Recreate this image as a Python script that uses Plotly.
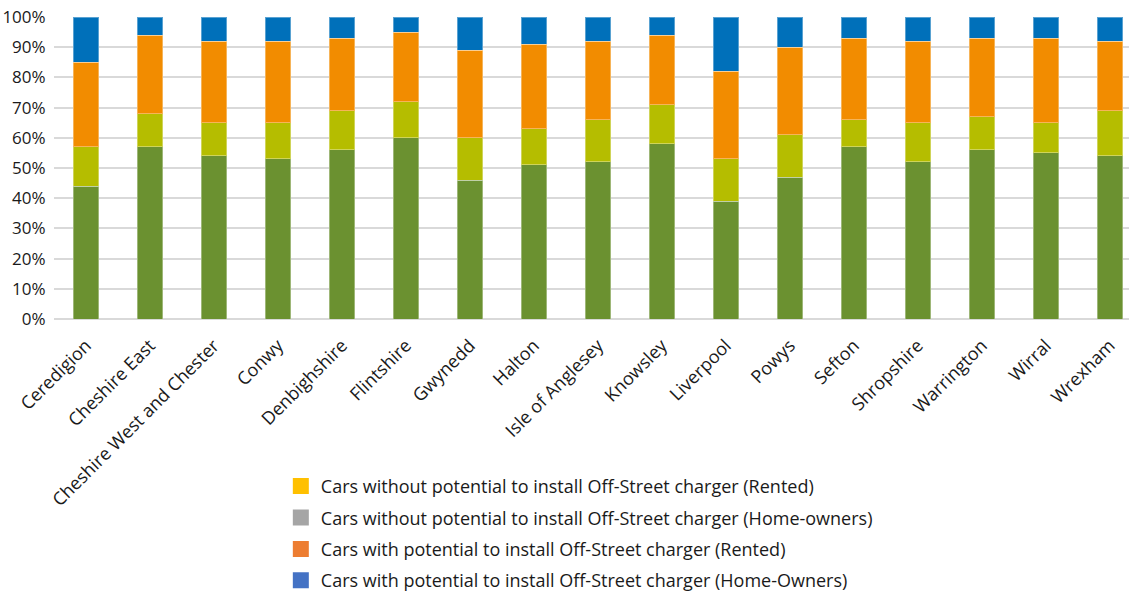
import plotly.graph_objects as go

categories = ["Ceredigion", "Cheshire East", "Cheshire West and Chester", "Conwy",
              "Denbighshire", "Flintshire", "Gwynedd", "Halton", "Isle of Anglesey",
              "Knowsley", "Liverpool", "Powys", "Sefton", "Shropshire", "Warrington",
              "Wirral", "Wrexham"]

# percentages, bottom to top
seg_green  = [44, 57, 54, 53, 56, 60, 46, 51, 52, 58, 39, 47, 57, 52, 56, 55, 54]
seg_olive  = [13, 11, 11, 12, 13, 12, 14, 12, 14, 13, 14, 14,  9, 13, 11, 10, 15]
seg_orange = [28, 26, 27, 27, 24, 23, 29, 28, 26, 23, 29, 29, 27, 27, 26, 28, 23]
seg_blue   = [15,  6,  8,  8,  7,  5, 11,  9,  8,  6, 18, 10,  7,  8,  7,  7,  8]

bar_colors = ["#6B9130", "#B5BD00", "#F28C00", "#0070BA"]

legend_names = [
    "Cars without potential to install Off-Street charger (Rented)",
    "Cars without potential to install Off-Street charger (Home-owners)",
    "Cars with potential to install Off-Street charger (Rented)",
    "Cars with potential to install Off-Street charger (Home-Owners)",
]
legend_colors = ["#FFC000", "#A5A5A5", "#ED7D31", "#4472C4"]

fig = go.Figure()
for vals, col in zip([seg_green, seg_olive, seg_orange, seg_blue], bar_colors):
    fig.add_trace(go.Bar(x=categories, y=vals, marker_color=col,
                         marker_line=dict(color="rgba(255,255,255,0.35)", width=1),
                         showlegend=False))

for i, (nm, col) in enumerate(zip(legend_names, legend_colors)):
    fig.add_trace(go.Scatter(x=[None], y=[None], name=nm, mode="markers",
                             marker=dict(symbol="square", size=16, color=col),
                             legendgroup="g%d" % i, showlegend=True))

fig.update_layout(
    barmode="stack",
    barnorm="percent",
    bargap=0.6,
    width=1129, height=593,
    margin=dict(l=54, r=0, t=17, b=274, autoexpand=False),
    plot_bgcolor="white", paper_bgcolor="white",
    font=dict(family="Open Sans", color="#1a1a1a", size=16),
    legend=dict(x=0.211, y=-0.493, xanchor="left", yanchor="top",
                traceorder="grouped", tracegroupgap=5,
                font=dict(size=18, family="Open Sans"),
                itemwidth=30),
)
fig.update_xaxes(tickangle=-45, tickfont=dict(size=18), showgrid=False,
                 range=[-0.5, 16.3], showline=False,
                 ticks="outside", ticklen=8, tickcolor="rgba(0,0,0,0)",
                 automargin=False)
fig.update_yaxes(range=[0, 100], dtick=10, ticksuffix="%", tickfont=dict(size=17),
                 gridcolor="#D9D9D9", gridwidth=2, zeroline=True,
                 zerolinecolor="#D9D9D9", zerolinewidth=2,
                 ticks="outside", ticklen=4, tickcolor="rgba(0,0,0,0)",
                 automargin=False)

fig.write_html("out.html", config={"displayModeBar": False},
               post_script="document.body.style.margin='0';document.body.style.overflow='hidden';")
